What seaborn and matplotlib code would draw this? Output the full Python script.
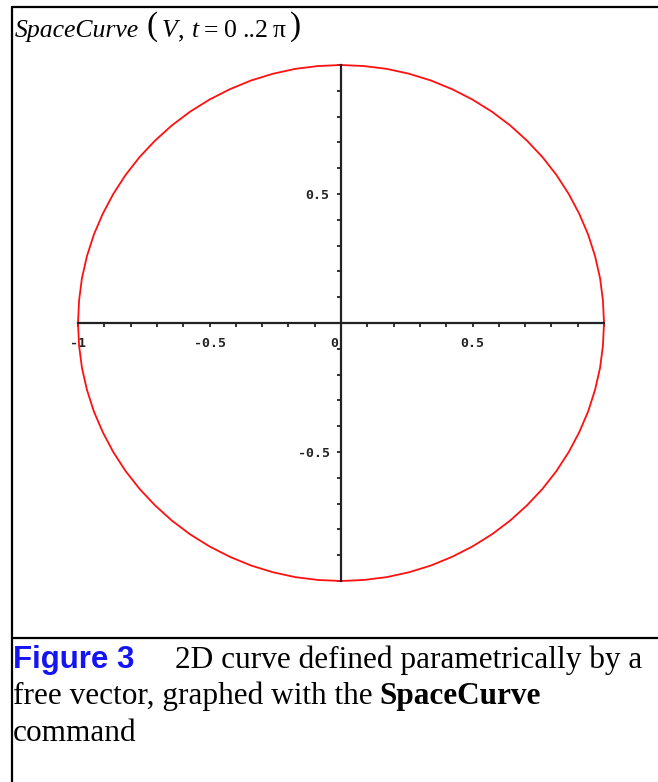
import matplotlib
matplotlib.use("Agg")
import matplotlib.pyplot as plt
import seaborn as sns
from matplotlib.lines import Line2D
from matplotlib.ticker import FixedLocator, MultipleLocator
from matplotlib.transforms import ScaledTranslation

# Points on the curve V(t), sampled every 5 degrees of t over 0..2*pi
curve_x = [1.000, 0.996, 0.985, 0.966, 0.940, 0.906, 0.866, 0.819, 0.766, 0.707,
           0.643, 0.574, 0.500, 0.423, 0.342, 0.259, 0.174, 0.087, 0.000,
           -0.087, -0.174, -0.259, -0.342, -0.423, -0.500, -0.574, -0.643, -0.707,
           -0.766, -0.819, -0.866, -0.906, -0.940, -0.966, -0.985, -0.996, -1.000,
           -0.996, -0.985, -0.966, -0.940, -0.906, -0.866, -0.819, -0.766, -0.707,
           -0.643, -0.574, -0.500, -0.423, -0.342, -0.259, -0.174, -0.087, 0.000,
           0.087, 0.174, 0.259, 0.342, 0.423, 0.500, 0.574, 0.643, 0.707,
           0.766, 0.819, 0.866, 0.906, 0.940, 0.966, 0.985, 0.996, 1.000]
curve_y = [0.000, 0.087, 0.174, 0.259, 0.342, 0.423, 0.500, 0.574, 0.643, 0.707,
           0.766, 0.819, 0.866, 0.906, 0.940, 0.966, 0.985, 0.996, 1.000,
           0.996, 0.985, 0.966, 0.940, 0.906, 0.866, 0.819, 0.766, 0.707,
           0.643, 0.574, 0.500, 0.423, 0.342, 0.259, 0.174, 0.087, 0.000,
           -0.087, -0.174, -0.259, -0.342, -0.423, -0.500, -0.574, -0.643, -0.707,
           -0.766, -0.819, -0.866, -0.906, -0.940, -0.966, -0.985, -0.996, -1.000,
           -0.996, -0.985, -0.966, -0.940, -0.906, -0.866, -0.819, -0.766, -0.707,
           -0.643, -0.574, -0.500, -0.423, -0.342, -0.259, -0.174, -0.087, 0.000]

x_tick_values = [-1, -0.5, 0, 0.5]
x_tick_labels = ["-1", "-0.5", "0", "0.5"]
y_tick_values = [-0.5, 0.5]
y_tick_labels = ["-0.5", "0.5"]

# Title pieces: (text, style, font size, gap before in px, baseline px)
title_pieces = [("SpaceCurve", "italic", 18.5, 0, 37),
                ("(", "normal", 24, 7, 35),
                ("V", "italic", 18.5, 4, 37),
                (",", "normal", 18.5, 1, 37),
                ("t", "italic", 18.5, 7, 37),
                ("=", "normal", 18.5, 5, 37),
                ("0", "normal", 18.5, 6, 37),
                ("..2", "normal", 18.5, 5, 37),
                ("π", "normal", 18.5, 5, 37),
                (")", "normal", 24, 4, 35)]
caption_label = "Figure 3"
caption_line1 = "2D curve defined parametrically by a"
caption_line2 = "free vector, graphed with the"
caption_bold = "SpaceCurve"
caption_line3 = "command"

sns.set_style("white")

W, H = 658, 782
fig = plt.figure(figsize=(W / 100, H / 100), dpi=100)
renderer = fig.canvas.get_renderer()


def fx(px):
    return px / W


def fy(py):
    return 1 - py / H


# Plot area: x in [-1, 1] spans 78..604 px, y in [-1, 1] spans 581..65 px
ax = fig.add_axes([fx(78), fy(581), (604 - 78) / W, (581 - 65) / H])
sns.lineplot(x=curve_x, y=curve_y, sort=False, estimator=None,
             color="#ff1010", linewidth=1.3, ax=ax)
ax.lines[0].set_clip_on(False)
ax.set_xlim(-1, 1)
ax.set_ylim(-1, 1)
ax.set_facecolor("none")

for side in ("top", "right"):
    ax.spines[side].set_visible(False)
for side in ("left", "bottom"):
    ax.spines[side].set_position(("data", 0))
    ax.spines[side].set_color("#222222")
    ax.spines[side].set_linewidth(1.6)

ax.xaxis.set_major_locator(FixedLocator(x_tick_values))
ax.xaxis.set_minor_locator(MultipleLocator(0.1))
ax.yaxis.set_major_locator(FixedLocator(y_tick_values))
ax.yaxis.set_minor_locator(MultipleLocator(0.1))
ax.set_xticklabels(x_tick_labels)
ax.set_yticklabels(y_tick_labels)

tick_font = dict(family="DejaVu Sans Mono", weight="bold", size=9.5)
ax.tick_params(axis="both", which="both", direction="out", length=3.2,
               width=1.3, color="#222222", bottom=True, left=True)
ax.tick_params(axis="x", which="major", pad=7)
ax.tick_params(axis="y", which="major", pad=5)
for lab in ax.get_xticklabels() + ax.get_yticklabels():
    lab.set_fontproperties(tick_font)
    lab.set_color("#222222")
for lab in ax.get_xticklabels():
    if lab.get_text() == "0":
        lab.set_horizontalalignment("right")
        lab.set_transform(lab.get_transform()
                          + ScaledTranslation(-3 / 100, 0, fig.dpi_scale_trans))

# Frame of the figure panel
frame_kw = dict(color="black", linewidth=1.6, transform=fig.transFigure)
fig.add_artist(Line2D([fx(12), fx(12)], [fy(7), fy(782)], **frame_kw))
fig.add_artist(Line2D([fx(12), fx(658)], [fy(7), fy(7)], **frame_kw))
fig.add_artist(Line2D([fx(12), fx(658)], [fy(638), fy(638)], **frame_kw))

serif = "Liberation Serif"

# Command title, set piece by piece
x = 15
for text, style, size, gap, base in title_pieces:
    x += gap
    t = fig.text(fx(x), fy(base), text, family=serif, style=style,
                 fontsize=size, color="black", ha="left", va="baseline")
    x = t.get_window_extent(renderer).x1

# Caption
cap_size = 22.5
fig.text(fx(13), fy(668), caption_label, family="Liberation Sans",
         weight="bold", fontsize=22.5, color="#1414f5", ha="left", va="baseline")
fig.text(fx(175), fy(668), caption_line1, family=serif, fontsize=cap_size,
         color="black", ha="left", va="baseline")
t2 = fig.text(fx(13), fy(704), caption_line2, family=serif, fontsize=cap_size,
              color="black", ha="left", va="baseline")
bb = t2.get_window_extent(renderer)
fig.text((bb.x1 + 7) / W, fy(704), caption_bold, family=serif, weight="bold",
         fontsize=cap_size, color="black", ha="left", va="baseline")
fig.text(fx(13), fy(741), caption_line3, family=serif, fontsize=cap_size,
         color="black", ha="left", va="baseline")

fig.savefig("out.png", dpi=100, facecolor="white")
